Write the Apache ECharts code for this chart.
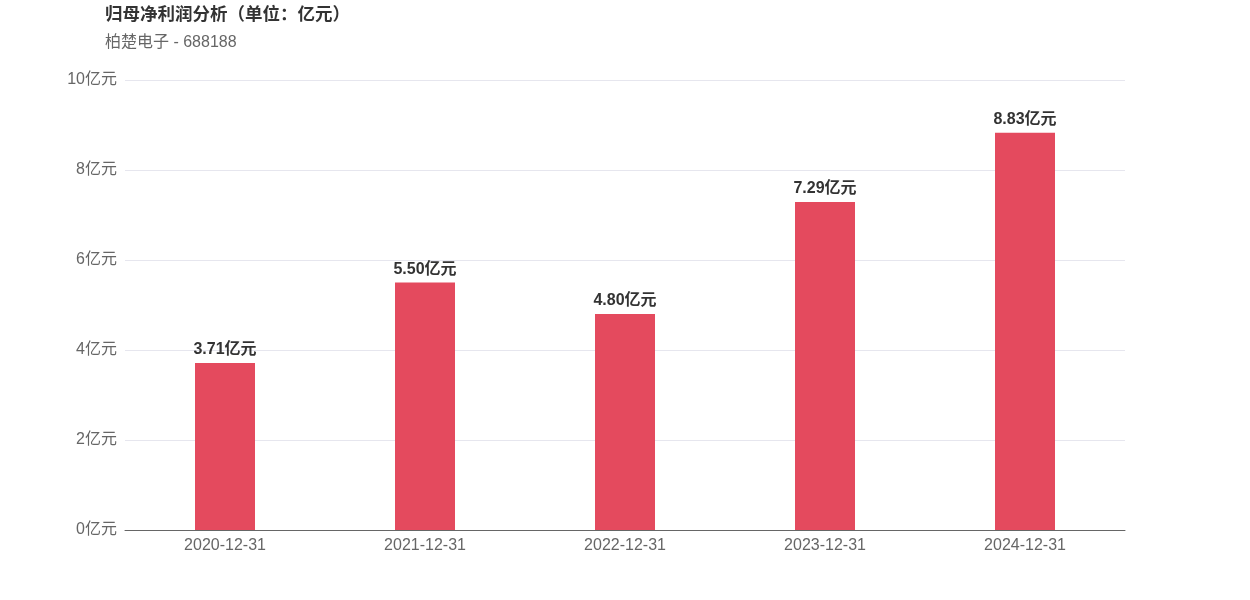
<!DOCTYPE html>
<html><head><meta charset="utf-8">
<script src="https://cdn.jsdelivr.net/npm/echarts@6/dist/echarts.min.js"></script>
<style>html,body{margin:0;padding:0;background:#fff}#c{width:1250px;height:600px}</style>
</head><body><div id="c"></div>
<script>
const categories = ['2020-12-31','2021-12-31','2022-12-31','2023-12-31','2024-12-31'];
const values = [3.71, 5.50, 4.80, 7.29, 8.83];
const yTicks = [0, 2, 4, 6, 8, 10];
const FF = '"Liberation Sans", "Noto Sans CJK SC", sans-serif';
const chart = echarts.init(document.getElementById('c'));
chart.setOption({
  animation: false,
  title: {
    text: '归母净利润分析（单位：亿元）',
    subtext: '柏楚电子 - 688188',
    left: 100, top: 1,
    itemGap: 11,
    textStyle: {fontSize: 17.5, fontWeight: 'bold', color: '#333', fontFamily: FF},
    subtextStyle: {fontSize: 16, color: '#666', fontFamily: FF}
  },
  grid: {left: 125, right: 125, top: 80, bottom: 70},
  xAxis: {
    type: 'category', data: categories,
    axisLine: {lineStyle: {color: '#666'}},
    axisTick: {show: false},
    axisLabel: {color: '#666', fontSize: 16, margin: 8, fontFamily: FF}
  },
  yAxis: {
    type: 'value', min: yTicks[0], max: yTicks[yTicks.length-1], interval: 2,
    axisLine: {show: false}, axisTick: {show: false},
    splitLine: {lineStyle: {color: '#e6e6ee'}},
    axisLabel: {color: '#666', fontSize: 16, margin: 8, fontFamily: FF, padding: [2, 0, 0, 0], formatter: v => v + '亿元'}
  },
  series: [{
    type: 'bar', data: values, barWidth: '30%',
    itemStyle: {color: '#e44a5e'},
    label: {show: true, position: 'top', distance: 5, color: '#333', fontWeight: 'bold', fontSize: 16, fontFamily: FF,
      formatter: p => p.value.toFixed(2) + '亿元'}
  }]
});
</script></body></html>
